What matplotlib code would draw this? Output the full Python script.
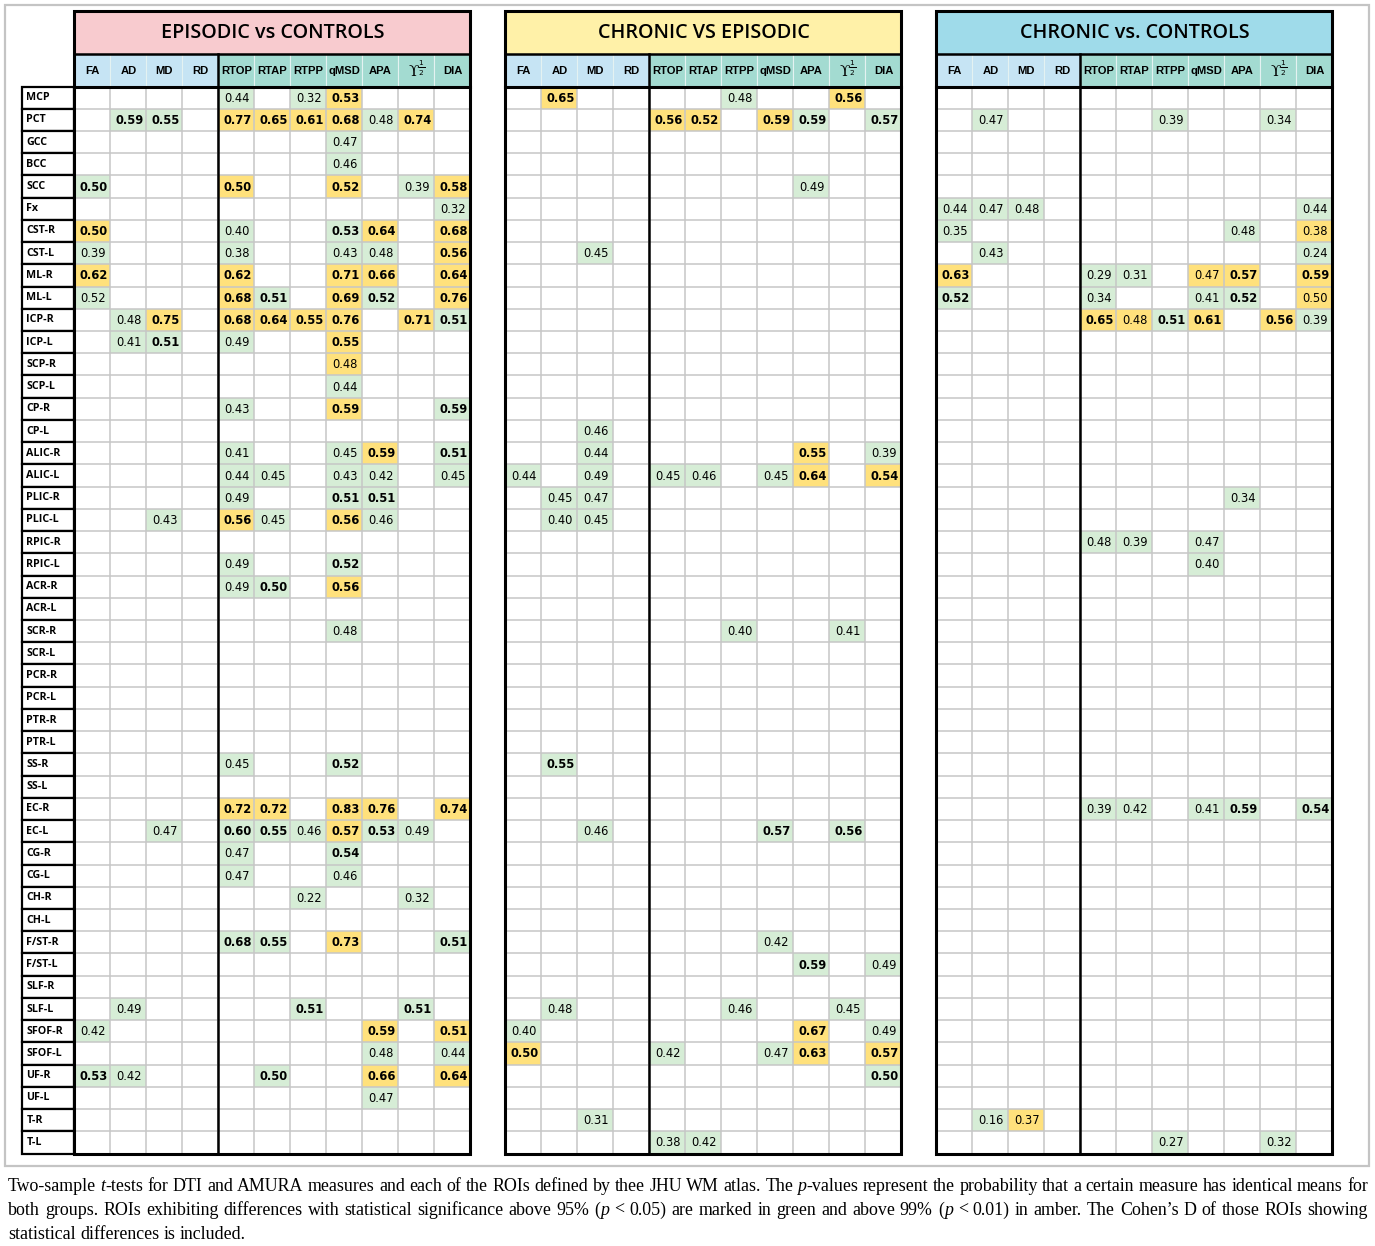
import matplotlib
matplotlib.use("Agg")
import matplotlib.pyplot as plt
from matplotlib.patches import Rectangle

# ---- data -------------------------------------------------------------
ROIS = ["MCP", "PCT", "GCC", "BCC", "SCC", "Fx", "CST-R", "CST-L", "ML-R", "ML-L",
        "ICP-R", "ICP-L", "SCP-R", "SCP-L", "CP-R", "CP-L", "ALIC-R", "ALIC-L",
        "PLIC-R", "PLIC-L", "RPIC-R", "RPIC-L", "ACR-R", "ACR-L", "SCR-R", "SCR-L",
        "PCR-R", "PCR-L", "PTR-R", "PTR-L", "SS-R", "SS-L", "EC-R", "EC-L", "CG-R",
        "CG-L", "CH-R", "CH-L", "F/ST-R", "F/ST-L", "SLF-R", "SLF-L", "SFOF-R",
        "SFOF-L", "UF-R", "UF-L", "T-R", "T-L"]

MEASURES = ["FA", "AD", "MD", "RD", "RTOP", "RTAP", "RTPP", "qMSD", "APA",
            r"ϒ$^{\frac{1}{2}}$", "DIA"]
N_DTI = 4  # first 4 measures are DTI, the rest AMURA

TITLES = ["EPISODIC vs CONTROLS", "CHRONIC VS EPISODIC", "CHRONIC vs. CONTROLS"]

# Cohen's D per ROI, one token per measure.
# "." = not significant, suffix g/G = green (p<0.05), a/A = amber (p<0.01),
# capital letter = printed in bold
episodic_vs_controls = {
    "MCP":    ". . . . 0.44g . 0.32g 0.53A . . .",
    "PCT":    ". 0.59G 0.55G . 0.77A 0.65A 0.61A 0.68A 0.48g 0.74A .",
    "GCC":    ". . . . . . . 0.47g . . .",
    "BCC":    ". . . . . . . 0.46g . . .",
    "SCC":    "0.50G . . . 0.50A . . 0.52A . 0.39g 0.58A",
    "Fx":     ". . . . . . . . . . 0.32g",
    "CST-R":  "0.50A . . . 0.40g . . 0.53G 0.64A . 0.68A",
    "CST-L":  "0.39g . . . 0.38g . . 0.43g 0.48g . 0.56A",
    "ML-R":   "0.62A . . . 0.62A . . 0.71A 0.66A . 0.64A",
    "ML-L":   "0.52g . . . 0.68A 0.51G . 0.69A 0.52G . 0.76A",
    "ICP-R":  ". 0.48g 0.75A . 0.68A 0.64A 0.55A 0.76A . 0.71A 0.51G",
    "ICP-L":  ". 0.41g 0.51G . 0.49g . . 0.55A . . .",
    "SCP-R":  ". . . . . . . 0.48a . . .",
    "SCP-L":  ". . . . . . . 0.44g . . .",
    "CP-R":   ". . . . 0.43g . . 0.59A . . 0.59G",
    "ALIC-R": ". . . . 0.41g . . 0.45g 0.59A . 0.51G",
    "ALIC-L": ". . . . 0.44g 0.45g . 0.43g 0.42g . 0.45g",
    "PLIC-R": ". . . . 0.49g . . 0.51G 0.51G . .",
    "PLIC-L": ". . 0.43g . 0.56A 0.45g . 0.56A 0.46g . .",
    "RPIC-L": ". . . . 0.49g . . 0.52G . . .",
    "ACR-R":  ". . . . 0.49g 0.50G . 0.56A . . .",
    "SCR-R":  ". . . . . . . 0.48g . . .",
    "SS-R":   ". . . . 0.45g . . 0.52G . . .",
    "EC-R":   ". . . . 0.72A 0.72A . 0.83A 0.76A . 0.74A",
    "EC-L":   ". . 0.47g . 0.60G 0.55G 0.46g 0.57A 0.53G 0.49g .",
    "CG-R":   ". . . . 0.47g . . 0.54G . . .",
    "CG-L":   ". . . . 0.47g . . 0.46g . . .",
    "CH-R":   ". . . . . . 0.22g . . 0.32g .",
    "F/ST-R": ". . . . 0.68G 0.55G . 0.73A . . 0.51G",
    "SLF-L":  ". 0.49g . . . . 0.51G . . 0.51G .",
    "SFOF-R": "0.42g . . . . . . . 0.59A . 0.51A",
    "SFOF-L": ". . . . . . . . 0.48g . 0.44g",
    "UF-R":   "0.53G 0.42g . . . 0.50G . . 0.66A . 0.64A",
    "UF-L":   ". . . . . . . . 0.47g . .",
}

chronic_vs_episodic = {
    "MCP":    ". 0.65A . . . . 0.48g . . 0.56A .",
    "PCT":    ". . . . 0.56A 0.52A . 0.59A 0.59G . 0.57G",
    "SCC":    ". . . . . . . . 0.49g . .",
    "CST-L":  ". . 0.45g . . . . . . . .",
    "CP-L":   ". . 0.46g . . . . . . . .",
    "ALIC-R": ". . 0.44g . . . . . 0.55A . 0.39g",
    "ALIC-L": "0.44g . 0.49g . 0.45g 0.46g . 0.45g 0.64A . 0.54A",
    "PLIC-R": ". 0.45g 0.47g . . . . . . . .",
    "PLIC-L": ". 0.40g 0.45g . . . . . . . .",
    "SCR-R":  ". . . . . . 0.40g . . 0.41g .",
    "SS-R":   ". 0.55G . . . . . . . . .",
    "EC-L":   ". . 0.46g . . . . 0.57G . 0.56G .",
    "F/ST-R": ". . . . . . . 0.42g . . .",
    "F/ST-L": ". . . . . . . . 0.59G . 0.49g",
    "SLF-L":  ". 0.48g . . . . 0.46g . . 0.45g .",
    "SFOF-R": "0.40g . . . . . . . 0.67A . 0.49g",
    "SFOF-L": "0.50A . . . 0.42g . . 0.47g 0.63A . 0.57A",
    "UF-R":   ". . . . . . . . . . 0.50G",
    "T-R":    ". . 0.31g . . . . . . . .",
    "T-L":    ". . . . 0.38g 0.42g . . . . .",
}

chronic_vs_controls = {
    "PCT":    ". 0.47g . . . . 0.39g . . 0.34g .",
    "Fx":     "0.44g 0.47g 0.48g . . . . . . . 0.44g",
    "CST-R":  "0.35g . . . . . . . 0.48g . 0.38a",
    "CST-L":  ". 0.43g . . . . . . . . 0.24g",
    "ML-R":   "0.63A . . . 0.29g 0.31g . 0.47a 0.57A . 0.59A",
    "ML-L":   "0.52G . . . 0.34g . . 0.41g 0.52G . 0.50a",
    "ICP-R":  ". . . . 0.65A 0.48a 0.51G 0.61A . 0.56A 0.39g",
    "PLIC-R": ". . . . . . . . 0.34g . .",
    "RPIC-R": ". . . . 0.48g 0.39g . 0.47g . . .",
    "RPIC-L": ". . . . . . . 0.40g . . .",
    "EC-R":   ". . . . 0.39g 0.42g . 0.41g 0.59G . 0.54G",
    "T-R":    ". 0.16g 0.37a . . . . . . . .",
    "T-L":    ". . . . . . 0.27g . . 0.32g .",
}

PANELS = [episodic_vs_controls, chronic_vs_episodic, chronic_vs_controls]

CAPTION = [
    "Two-sample _t_-tests for DTI and AMURA measures and each of the ROIs defined by thee JHU WM atlas. "
    "The _p_-values represent the probability that a certain measure has identical means for",
    "both groups. ROIs exhibiting differences with statistical significance above 95% (_p_ < 0.05) "
    "are marked in green and above 99% (_p_ < 0.01) in amber. The Cohen\u2019s D of those ROIs showing",
    "statistical differences is included.",
]

# ---- styling ----------------------------------------------------------
TITLE_COLORS = ["#f8cbcf", "#fff1a8", "#9fdbea"]
DTI_HEAD = "#c6e4f4"
AMURA_HEAD = "#a3dbd1"
FILL = {"g": "#d6edd6", "a": "#ffe17c"}
GRID = "#c6c6c6"

W, H = 1375, 1246
PANEL_X = [74.5, 505.5, 936.5]
COL_W = 36.0
TITLE_Y0, TITLE_Y1 = 10.5, 53.5
HEAD_Y1 = 86.5
BOTTOM = 1153.5
ROW_H = (BOTTOM - HEAD_Y1) / len(ROIS)
LABEL_X0 = 22.5

fig = plt.figure(figsize=(W / 100, H / 100), dpi=100)
ax = fig.add_axes([0, 0, 1, 1])
ax.set_xlim(0, W)
ax.set_ylim(H, 0)
ax.axis("off")

# light grey frame around the whole table
ax.add_patch(Rectangle((5.5, 4.5), 1364, 1161, fill=False, ec="#c4c4c4", lw=1.6))

# ROI labels
for i, roi in enumerate(ROIS):
    y0 = HEAD_Y1 + i * ROW_H
    ax.add_patch(Rectangle((LABEL_X0, y0), PANEL_X[0] - LABEL_X0, ROW_H,
                           fc="white", ec="black", lw=1.6, zorder=3))
    ax.text(LABEL_X0 + 4, y0 + ROW_H / 2, roi, ha="left", va="center",
            fontsize=7.7, fontfamily="Open Sans", fontweight="bold", zorder=4)

panel_w = COL_W * len(MEASURES)
for p, cells in enumerate(PANELS):
    L = PANEL_X[p]

    # title bar
    ax.add_patch(Rectangle((L, TITLE_Y0), panel_w, TITLE_Y1 - TITLE_Y0,
                           fc=TITLE_COLORS[p], ec="none"))
    ax.text(L + panel_w / 2, (TITLE_Y0 + TITLE_Y1) / 2 + 1, TITLES[p],
            ha="center", va="center", fontsize=14.2, fontfamily="Open Sans",
            fontweight="semibold")

    # measure header
    for j, m in enumerate(MEASURES):
        fc = DTI_HEAD if j < N_DTI else AMURA_HEAD
        ax.add_patch(Rectangle((L + j * COL_W, TITLE_Y1), COL_W, HEAD_Y1 - TITLE_Y1,
                               fc=fc, ec="#e4f2f2", lw=0.8))
        cx = L + (j + 0.5) * COL_W
        if m.startswith("ϒ"):
            ax.text(cx, (TITLE_Y1 + HEAD_Y1) / 2, m, ha="center", va="center",
                    fontsize=11, fontfamily=["DejaVu Serif", "DejaVu Sans"])
        else:
            ax.text(cx, (TITLE_Y1 + HEAD_Y1) / 2 + 0.5, m, ha="center", va="center",
                    fontsize=8.1, fontfamily="Liberation Sans", fontweight="bold")

    # significant cells
    for i, roi in enumerate(ROIS):
        tokens = cells.get(roi, ". " * len(MEASURES)).split()
        for j, tok in enumerate(tokens):
            if tok == ".":
                continue
            val, code = tok[:-1], tok[-1]
            y0 = HEAD_Y1 + i * ROW_H
            ax.add_patch(Rectangle((L + j * COL_W, y0), COL_W, ROW_H,
                                   fc=FILL[code.lower()], ec="none", zorder=1))
            ax.text(L + (j + 0.5) * COL_W + 0.8, y0 + ROW_H / 2 + 0.5, val,
                    ha="center", va="center", fontsize=8.3, fontfamily="DejaVu Sans",
                    fontweight="bold" if code.isupper() else "normal", zorder=4)

    # light grid
    for j in range(1, len(MEASURES)):
        ax.plot([L + j * COL_W] * 2, [HEAD_Y1, BOTTOM], color=GRID, lw=1.1, zorder=2)
    for i in range(1, len(ROIS)):
        y = HEAD_Y1 + i * ROW_H
        ax.plot([L, L + panel_w], [y, y], color=GRID, lw=1.1, zorder=2)

    # heavy lines
    ax.add_patch(Rectangle((L, TITLE_Y0), panel_w, BOTTOM - TITLE_Y0, fill=False,
                           ec="black", lw=2.2, zorder=5))
    ax.plot([L, L + panel_w], [TITLE_Y1, TITLE_Y1], color="black", lw=1.8, zorder=5)
    ax.plot([L, L + panel_w], [HEAD_Y1, HEAD_Y1], color="black", lw=2.2, zorder=5)
    ax.plot([L + N_DTI * COL_W] * 2, [TITLE_Y1, BOTTOM], color="black", lw=1.8, zorder=5)

# ---- caption (justified, italic parts between underscores) --------------
renderer = fig.canvas.get_renderer()
CAP_X0, CAP_X1 = 8, 1368


def make_words(line, fs, baseline):
    words = []
    for w in line.split(" "):
        segs = []
        for k, part in enumerate(w.split("_")):
            if part:
                t = ax.text(0, baseline, part, fontsize=fs, fontfamily="Liberation Serif",
                            fontstyle="italic" if k % 2 else "normal", va="baseline")
                segs.append((t, t.get_window_extent(renderer).width))
        words.append(segs)
    return words


# pick the size at which the first line fits with ordinary word spaces
probe = make_words(CAPTION[0], 10, 0)
probe_w = sum(wd for segs in probe for _, wd in segs)
for segs in probe:
    for t, _ in segs:
        t.remove()
n_gaps = len(probe) - 1
cap_fs = 10 * (CAP_X1 - CAP_X0) / (probe_w + n_gaps * 0.25 * 10 * 100 / 72)

for li, line in enumerate(CAPTION):
    baseline = 1191 + li * 24
    words = make_words(line, cap_fs, baseline)
    total = sum(wd for segs in words for _, wd in segs)
    if li < len(CAPTION) - 1:
        gap = (CAP_X1 - CAP_X0 - total) / (len(words) - 1)
    else:
        gap = 0.25 * cap_fs * 100 / 72
    x = CAP_X0
    for segs in words:
        for t, wd in segs:
            t.set_x(x)
            x += wd
        x += gap

fig.savefig("out.png", dpi=100)
